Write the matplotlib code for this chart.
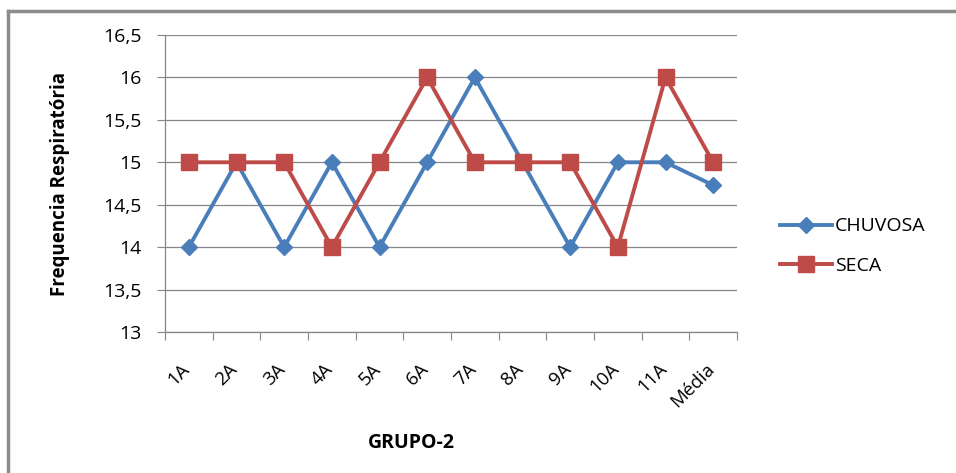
import matplotlib
matplotlib.use("Agg")
import matplotlib.pyplot as plt
from matplotlib.lines import Line2D
from matplotlib.transforms import ScaledTranslation

categories = ["1A", "2A", "3A", "4A", "5A", "6A", "7A", "8A", "9A", "10A", "11A", "Média"]
chuvosa = [14, 15, 14, 15, 14, 15, 16, 15, 14, 15, 15, 14.73]
seca = [15, 15, 15, 14, 15, 16, 15, 15, 15, 14, 16, 15]
yticks = [13, 13.5, 14, 14.5, 15, 15.5, 16, 16.5]
ytick_labels = ["13", "13,5", "14", "14,5", "15", "15,5", "16", "16,5"]

plt.rcParams['font.family'] = ['Open Sans', 'DejaVu Sans']

W, H = 956, 473
fig = plt.figure(figsize=(W/100, H/100), dpi=100)
ax = fig.add_axes([165/W, 1-332/H, (737-165)/W, (332-35)/H])

x = list(range(len(categories)))
blue = "#4A7EBB"
red = "#BE4B48"
ax.plot(x, chuvosa, color=blue, lw=2.8, marker="D", ms=8.5, mec=blue, mfc=blue, label="CHUVOSA", zorder=3)
ax.plot(x, seca, color=red, lw=2.8, marker="s", ms=11.5, mec=red, mfc=red, label="SECA", zorder=4)

ax.set_xlim(-0.5, len(categories)-0.5)
ax.set_ylim(13, 16.5)
ax.set_yticks(yticks)
ax.set_yticklabels(ytick_labels, fontsize=14)
ax.yaxis.grid(True, color="#868686", lw=0.9)
ax.set_axisbelow(True)
ax.set_xticks([i - 0.5 for i in range(len(categories)+1)], minor=False)
ax.set_xticklabels([])
ax.set_xticks(x, minor=True)
ax.set_xticklabels(categories, minor=True, rotation=45, ha="right", va="top", rotation_mode="anchor", fontsize=13.5)
ax.tick_params(axis="x", which="minor", length=0, pad=20)
ax.tick_params(axis="x", which="major", length=6, color="#868686", direction="out")
ax.tick_params(axis="y", length=6, color="#868686", direction="out", pad=11)
off = ScaledTranslation(-8/100, 0, fig.dpi_scale_trans)
for lab in ax.get_xticklabels(minor=True):
    lab.set_transform(lab.get_transform() + off)
for s in ["top", "right"]:
    ax.spines[s].set_visible(False)
for s in ["left", "bottom"]:
    ax.spines[s].set_color("#868686")
    ax.spines[s].set_linewidth(0.9)

ax.set_ylabel("Frequencia Respiratória", fontsize=13.5, fontweight="bold", labelpad=24)
fig.text(411/W, 1-443/H, "GRUPO-2", fontsize=14, fontweight="bold", ha="center", va="center")

leg = fig.legend(handles=[Line2D([], [], color=blue, lw=2.8, marker="D", ms=8.5),
                          Line2D([], [], color=red, lw=2.8, marker="s", ms=11.5)],
                 labels=["CHUVOSA", "SECA"], loc="center left",
                 bbox_to_anchor=(762/W, 1-246/H), frameon=False, fontsize=14,
                 handlelength=2.7, handletextpad=0.15, labelspacing=1.1)

fig.add_artist(Line2D([7.5/W, 7.5/W], [0, 1-11/H], color="#8c8c8c", lw=2.5, transform=fig.transFigure))
fig.add_artist(Line2D([7.5/W, 1], [1-11/H, 1-11/H], color="#8c8c8c", lw=2.5, transform=fig.transFigure))

fig.savefig("out.png", dpi=100)
